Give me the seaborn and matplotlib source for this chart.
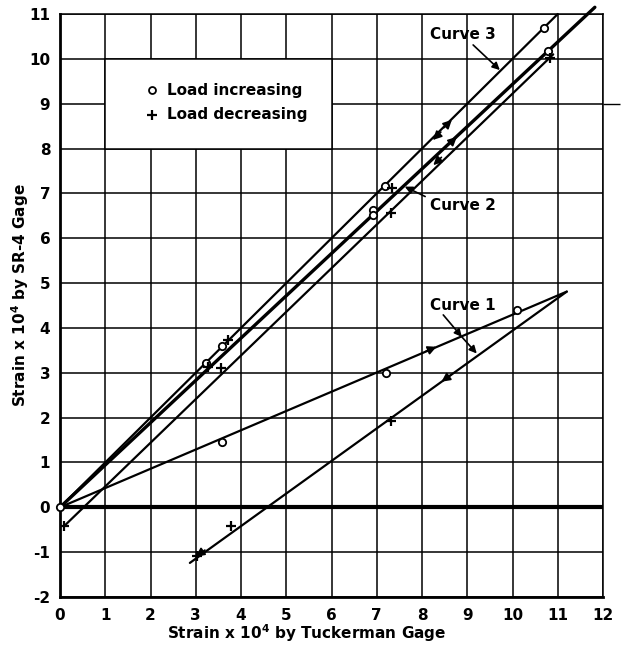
import numpy as np
import matplotlib
matplotlib.use("Agg")
import matplotlib.pyplot as plt
import seaborn as sns
from matplotlib.patches import Rectangle

# ---------------------------------------------------------------
# Data (strain x 10^4)
# ---------------------------------------------------------------
# line segments: (x_start, x_end), (y_start, y_end)
curve3_x = [0.0, 11.0]
curve3_y = [0.0, 11.0]
curve2_up_x = [0.0, 11.82]
curve2_up_y = [0.0, 11.15]
curve2_down_x = [10.9, 0.09]
curve2_down_y = [10.1, -0.42]
curve1_up_x = [0.0, 11.2]
curve1_up_y = [0.0, 4.81]
curve1_down_x = [11.2, 2.87]
curve1_down_y = [4.81, -1.24]

# measured points
inc_x = [0.0, 3.23, 3.57, 7.18, 10.70, 6.91, 6.91, 10.79, 3.59, 7.20, 10.09]
inc_y = [0.0, 3.22, 3.60, 7.16, 10.68, 6.63, 6.52, 10.18, 1.45, 2.99, 4.41]
dec_x = [3.72, 7.33, 3.26, 3.55, 7.31, 10.83, 0.09, 7.31, 3.79, 3.02]
dec_y = [3.73, 7.13, 3.13, 3.11, 6.57, 10.03, -0.42, 1.92, -0.42, -1.09]

# direction arrows on the curves: head position and direction
arrow_x = [8.66, 8.24, 8.77, 8.25, 8.32, 8.43, 3.00]
arrow_y = [8.64, 8.19, 8.26, 7.63, 3.58, 2.80, -1.10]
arrow_dx = [1.0, -1.0, 1.0, -1.0, 1.0, -1.0, -1.0]
arrow_dy = [1.0, -1.0, 0.943, -0.973, 0.429, -0.726, -0.726]

x_ticks = list(range(0, 13))
y_ticks = list(range(-2, 12))
x_ticklabels = [str(v) for v in x_ticks]
y_ticklabels = [str(v) for v in y_ticks]

# ---------------------------------------------------------------
# Style
# ---------------------------------------------------------------
sns.set_theme(style="white")
plt.rcParams["font.family"] = ["DejaVu Sans"]
plt.rcParams["font.weight"] = "bold"
plt.rcParams["mathtext.default"] = "bf"
plt.rcParams["text.color"] = "black"
plt.rcParams["xtick.color"] = "black"
plt.rcParams["ytick.color"] = "black"
plt.rcParams["axes.labelcolor"] = "black"

fig = plt.figure(figsize=(6.21, 6.48), dpi=100)
ax = fig.add_axes([60 / 621, 1 - 597 / 648, 543 / 621, 583 / 648])
ax.set_xlim(0, 12)
ax.set_ylim(-2, 11)

# grid
for xv in x_ticks:
    ax.axvline(xv, color="black", lw=1.1, zorder=1)
for yv in y_ticks:
    ax.axhline(yv, color="black", lw=1.1, zorder=1)
ax.axhline(0, color="black", lw=3.0, zorder=1.2)
ax.hlines(9, 12, 12.37, color="black", lw=1.0, clip_on=False)

# blank box for the key
ax.add_patch(Rectangle((1, 8), 5, 2, facecolor="white", edgecolor="black",
                       lw=1.1, zorder=1.5))

# curves
segs = [
    (curve3_x, curve3_y, 1.6),
    (curve2_up_x, curve2_up_y, 2.4),
    (curve2_down_x, curve2_down_y, 1.6),
    (curve1_up_x, curve1_up_y, 1.6),
    (curve1_down_x, curve1_down_y, 1.6),
]
for sx, sy, lw in segs:
    sns.lineplot(x=sx, y=sy, sort=False, color="black", lw=lw, ax=ax,
                 zorder=3)
    ax.lines[-1].set_clip_on(False)

sns.scatterplot(x=inc_x, y=inc_y, marker="o", s=28, facecolor="white",
                edgecolor="black", linewidth=1.3, ax=ax, zorder=4,
                clip_on=False)
sns.scatterplot(x=dec_x, y=dec_y, marker="+", s=60, color="black",
                linewidth=1.6, ax=ax, zorder=4)

for hx, hy, dx, dy in zip(arrow_x, arrow_y, arrow_dx, arrow_dy):
    n = np.hypot(dx, dy)
    ax.annotate("", xy=(hx, hy), xytext=(hx - 0.25 * dx / n, hy - 0.25 * dy / n),
                arrowprops=dict(arrowstyle="-|>", color="black", lw=1.2,
                                mutation_scale=13, shrinkA=0, shrinkB=0),
                zorder=5)

# labels with leaders
fs = 11
ax.text(8.18, 10.55, "Curve 3", fontsize=fs, va="center", ha="left", zorder=6)
ax.annotate("", xy=(9.72, 9.75), xytext=(9.13, 10.31),
            arrowprops=dict(arrowstyle="-|>", color="black", lw=1.2,
                            mutation_scale=11, shrinkA=0, shrinkB=0))
ax.text(8.18, 6.72, "Curve 2", fontsize=fs, va="center", ha="left", zorder=6)
ax.annotate("", xy=(7.62, 7.15), xytext=(8.07, 6.93),
            arrowprops=dict(arrowstyle="-|>", color="black", lw=1.2,
                            mutation_scale=11, shrinkA=0, shrinkB=0))
ax.text(8.18, 4.49, "Curve 1", fontsize=fs, va="center", ha="left", zorder=6)
ax.annotate("", xy=(8.88, 3.80), xytext=(8.47, 4.29),
            arrowprops=dict(arrowstyle="-|>", color="black", lw=1.2,
                            mutation_scale=11, shrinkA=0, shrinkB=0))
ax.annotate("", xy=(9.21, 3.43), xytext=(8.88, 3.80),
            arrowprops=dict(arrowstyle="-|>", color="black", lw=1.2,
                            mutation_scale=11, shrinkA=0, shrinkB=0))

# key
sns.scatterplot(x=[2.03], y=[9.30], marker="o", s=25, facecolor="white",
                edgecolor="black", linewidth=1.3, ax=ax, zorder=6)
sns.scatterplot(x=[2.03], y=[8.75], marker="+", s=60, color="black",
                linewidth=1.6, ax=ax, zorder=6)
ax.text(2.36, 9.30, "Load increasing", fontsize=fs, va="center", zorder=6)
ax.text(2.36, 8.75, "Load decreasing", fontsize=fs, va="center", zorder=6)

# axes
ax.set_xticks(x_ticks)
ax.set_xticklabels(x_ticklabels, fontsize=11, fontweight="bold")
ax.set_yticks(y_ticks)
ax.set_yticklabels(y_ticklabels, fontsize=11, fontweight="bold")
ax.tick_params(axis="both", length=0, colors="black")
ax.tick_params(axis="x", pad=8)
ax.tick_params(axis="y", pad=7)
for side in ["top", "right"]:
    ax.spines[side].set_linewidth(1.1)
    ax.spines[side].set_color("black")
for side in ["left", "bottom"]:
    ax.spines[side].set_linewidth(2.0)
    ax.spines[side].set_color("black")
ax.set_xlabel("")
ax.set_ylabel("")

fig.text(307 / 621, 1 - 633 / 648, "Strain x 10$^4$ by Tuckerman Gage",
         fontsize=11, ha="center", va="center", color="black")
fig.text(20 / 621, 1 - 295 / 648, "Strain x 10$^4$ by SR-4 Gage",
         fontsize=11, ha="center", va="center", rotation=90, color="black")

fig.savefig("out.png", dpi=100)
